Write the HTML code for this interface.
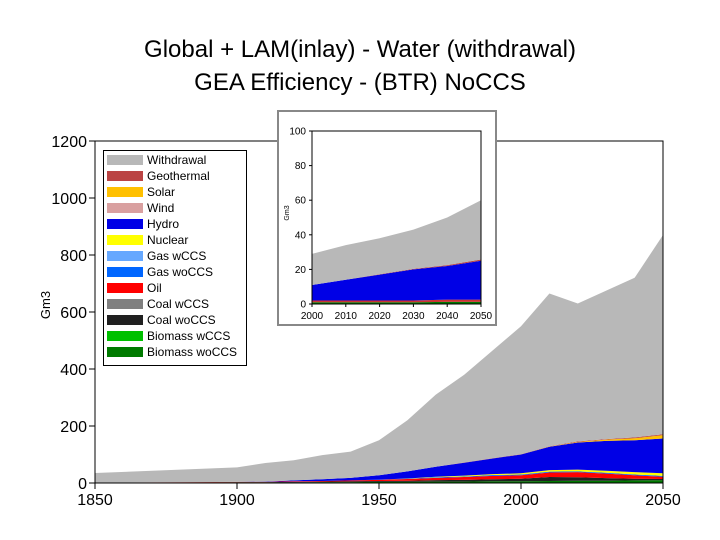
<!DOCTYPE html>
<html><head><meta charset="utf-8"><style>
body{margin:0;background:#fff;}
svg{display:block;font-family:"Liberation Sans",sans-serif;}
</style></head><body>
<svg id="c" width="720" height="540" viewBox="0 0 720 540">
<text x="360" y="57" font-size="24" text-anchor="middle">Global + LAM(inlay) - Water (withdrawal)</text>
<text x="360" y="90" font-size="24" text-anchor="middle">GEA Efficiency - (BTR) NoCCS</text>
<g id="main"></g>
<g id="legend"></g>
<g id="inlay"></g>
</svg>
<script>
const NS='http://www.w3.org/2000/svg';
// Main chart data (Gm3)
const years=[1850,1900,1910,1920,1930,1940,1950,1960,1970,1980,1990,2000,2010,2020,2030,2040,2050];
const biomassWo=[1,2,2,2,3,3,4,4,5,5,6,6,7,8,8,9,10];
const coalWo=[0,1,1,2,2,3,3,4,5,6,7,9,14,12,9,6,4];
const oil=[0,1,1,2,2,3,4,6,8,10,12,12,16,18,16,12,8];
const gasWo=[0,0,0,0,0,0,1,1,2,2,3,3,3,3,3,3,3];
const nuclear=[0,0,0,0,0,0,0,1,2,3,3,4,5,6,7,8,9];
const hydro=[0,0,1,3,6,9,15,25,35,45,55,66,82,95,105,112,122];
const solar=[0,0,0,0,0,0,0,0,0,0,0,0,1,2,4,7,12];
const geothermal=[0,0,0,0,0,0,0,0,0,1,1,1,1,2,2,3,3];
const total=[35,55,70,80,98,110,150,220,310,380,465,550,665,630,675,720,870];
// Inlay data
const iYears=[2000,2010,2020,2030,2040,2050];
const iBase=[2,2,2,2,2.5,2.5];
const iHydro=[9,12,15,18,19.5,22.5];
const iGeo=[0,0,0.2,0.3,0.5,0.7];
const iTotal=[29,34,38,43,50,60];
const mainTicks=[0,200,400,600,800,1000,1200];
const xTicks=[1850,1900,1950,2000,2050];
const iYTicks=[0,20,40,60,80,100];
const iXTicks=[2000,2010,2020,2030,2040,2050];
const legendLabels=['Withdrawal','Geothermal','Solar','Wind','Hydro','Nuclear','Gas wCCS','Gas woCCS','Oil','Coal wCCS','Coal woCCS','Biomass wCCS','Biomass woCCS'];
const legendColors=['#b8b8b8','#bb4444','#ffc000','#d9a0a0','#0000e6','#ffff00','#66a8ff','#0066ff','#ff0000','#808080','#202020','#00c000','#007a00'];

function mk(p,tag,a,txt){const e=document.createElementNS(NS,tag);for(const k in a)e.setAttribute(k,a[k]);if(txt!==undefined)e.textContent=txt;p.appendChild(e);return e;}

function stackLayers(g,xs,layers,colors,X,Y,name){
  let base=xs.map(()=>0);
  layers.forEach((l,i)=>{
    const top=base.map((b,j)=>b+l[j]);
    let d='M'+xs.map((x,j)=>X(x)+','+Y(top[j])).join('L');
    for(let j=xs.length-1;j>=0;j--)d+='L'+X(xs[j])+','+Y(base[j]);
    const p=mk(g,'path',{d:d+'Z',fill:colors[i]});
    
    
    base=top;
  });
}

// main
const m=document.getElementById('main');
const X=y=>95+(y-1850)*(663-95)/200;
const Y=v=>483-v*(483-141)/1200;
const rest=total.map((t,j)=>t-biomassWo[j]-coalWo[j]-oil[j]-gasWo[j]-nuclear[j]-hydro[j]-solar[j]-geothermal[j]);
stackLayers(m,years,[biomassWo,coalWo,oil,gasWo,nuclear,hydro,solar,geothermal,rest],
 ['#007a00','#202020','#ff0000','#0066ff','#ffff00','#0000e6','#ffc000','#bb4444','#b8b8b8'],X,Y,'main');
mk(m,'path',{d:'M95,141L663,141L663,483',fill:'none',stroke:'#000','stroke-width':1});
mk(m,'line',{x1:95,y1:141,x2:95,y2:483,stroke:'#000'});
mk(m,'line',{x1:95,y1:483,x2:663,y2:483,stroke:'#000'});
mainTicks.forEach(v=>{
  mk(m,'line',{x1:89,y1:Y(v),x2:95,y2:Y(v),stroke:'#000'});
  const t=mk(m,'text',{x:87,y:Y(v)+6,'font-size':16,'text-anchor':'end'},v);
  
  
});
xTicks.forEach(v=>{
  mk(m,'line',{x1:X(v),y1:483,x2:X(v),y2:489,stroke:'#000'});
  const t=mk(m,'text',{x:X(v),y:505,'font-size':16,'text-anchor':'middle'},v);
  
  
});
const yt=mk(m,'text',{x:0,y:0,'font-size':13,'text-anchor':'middle',transform:'translate(50,305) rotate(-90)'},'Gm3');



// legend
const lg=document.getElementById('legend');
mk(lg,'rect',{x:103.5,y:150.5,width:143,height:215,fill:'#fff',stroke:'#000'});
legendLabels.forEach((l,i)=>{
  const y=160+i*16;
  const r=mk(lg,'rect',{x:107,y:y-5,width:36,height:10,fill:legendColors[i]});
  
  
  const t=mk(lg,'text',{x:147,y:y+4,'font-size':12},l);
  
  
});

// inlay
const ig=document.getElementById('inlay');
mk(ig,'rect',{x:278,y:111,width:218,height:214,fill:'#fff',stroke:'#888','stroke-width':2});
const IX=y=>312+(y-2000)*(481-312)/50;
const IY=v=>304-v*(304-131)/100;
const iRest=iTotal.map((t,j)=>t-iBase[j]-iHydro[j]-iGeo[j]);
const iBio=iBase.map(v=>v*0.5), iOther=iBase.map(v=>v*0.5);
stackLayers(ig,iYears,[iBio,iOther,iHydro,iGeo,iRest],['#007a00','#cc3333','#0000e6','#bb4444','#b8b8b8'],IX,IY,'inlay');
mk(ig,'path',{d:'M312,131L481,131L481,304',fill:'none',stroke:'#000'});
mk(ig,'line',{x1:312,y1:131,x2:312,y2:304,stroke:'#000'});
mk(ig,'line',{x1:312,y1:304,x2:481,y2:304,stroke:'#000'});
iYTicks.forEach(v=>{
  mk(ig,'line',{x1:309,y1:IY(v),x2:312,y2:IY(v),stroke:'#000'});
  const t=mk(ig,'text',{x:306,y:IY(v)+3.5,'font-size':10,'text-anchor':'end'},v);
  
  
});
iXTicks.forEach(v=>{
  mk(ig,'line',{x1:IX(v),y1:304,x2:IX(v),y2:307,stroke:'#000'});
  const t=mk(ig,'text',{x:IX(v),y:319,'font-size':10,'text-anchor':'middle'},v);
  
  
});
const it=mk(ig,'text',{x:0,y:0,'font-size':7,'text-anchor':'middle',transform:'translate(289,213) rotate(-90)'},'Gm3');


</script>
</body></html>
